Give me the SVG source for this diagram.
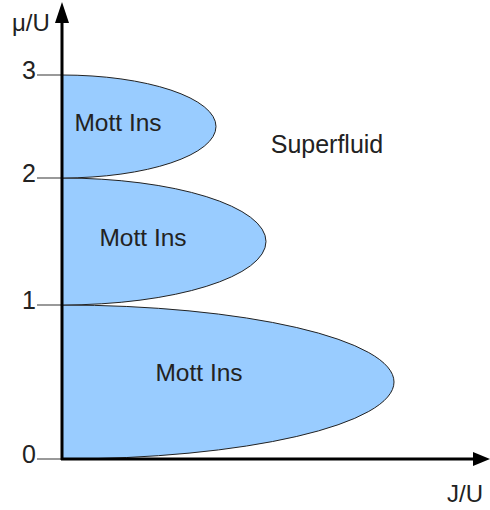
<svg xmlns="http://www.w3.org/2000/svg" width="490" height="510" viewBox="0 0 490 510">
<style>
.lobe{fill:#99ccff;stroke:#222;stroke-width:1}
.tick{stroke:#777;stroke-width:1.5}
.axis{stroke:#000;stroke-width:3;fill:none}
.lbl{font-family:"Liberation Sans",Arial,sans-serif;fill:#222}
.mott{font-size:24.5px}
.num{font-size:25px}
</style>
<rect width="490" height="510" fill="#fff"/>
<g id="lobe3"><path class="lobe" d="M62,305 A332,77 0 0 1 62,459 Z"/><text class="lbl mott" x="199" y="381" text-anchor="middle">Mott Ins</text></g>
<g id="lobe2"><path class="lobe" d="M62,178 A204,63.5 0 0 1 62,305 Z"/><text class="lbl mott" x="143" y="246" text-anchor="middle">Mott Ins</text></g>
<g id="lobe1"><path class="lobe" d="M62,75 A154,51.5 0 0 1 62,178 Z"/><text class="lbl mott" x="118" y="131" text-anchor="middle">Mott Ins</text></g>
<g id="superfluid"><text class="lbl" x="327" y="153" font-size="25" text-anchor="middle">Superfluid</text></g>
<g id="axes">
<line class="tick" x1="37" y1="75" x2="62" y2="75"/>
<line class="tick" x1="37" y1="178" x2="62" y2="178"/>
<line class="tick" x1="37" y1="305" x2="62" y2="305"/>
<line class="tick" x1="37" y1="459" x2="62" y2="459"/>
<line class="axis" x1="62" y1="460" x2="62" y2="18"/>
<line class="axis" x1="61" y1="459" x2="476" y2="459"/>
<polygon points="62,2 55,23 69,23" fill="#000"/>
<polygon points="490,459 473,452 473,466" fill="#000"/>
</g>
<g id="labels">
<text class="lbl num" x="36" y="79" text-anchor="end">3</text>
<text class="lbl num" x="36" y="182" text-anchor="end">2</text>
<text class="lbl num" x="36" y="309" text-anchor="end">1</text>
<text class="lbl num" x="36" y="463" text-anchor="end">0</text>
<text class="lbl" x="12" y="31" font-size="24">μ/U</text>
<text class="lbl" x="447" y="502" font-size="24">J/U</text>
</g>
</svg>
